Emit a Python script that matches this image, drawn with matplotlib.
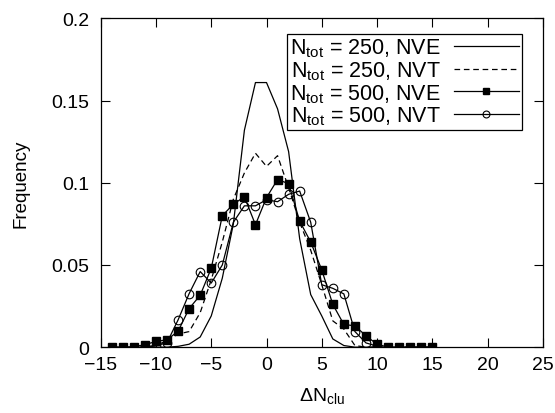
import matplotlib
matplotlib.use("Agg")
import matplotlib.pyplot as plt

plt.rcParams["font.family"] = ["Liberation Sans", "DejaVu Sans"]
plt.rcParams["mathtext.fontset"] = "custom"
plt.rcParams["mathtext.rm"] = "Liberation Sans"
plt.rcParams["mathtext.it"] = "Liberation Sans"

# Delta N_clu values for each run
x_250 = [-14, -13, -12, -11, -10, -9, -8, -7, -6, -5, -4, -3, -2, -1, 0,
         1, 2, 3, 4, 5, 6, 7, 8, 9, 10, 11, 12, 13, 14, 15]
nve_250 = [0, 0, 0, 0, 0, 0, 0.0005, 0.0018, 0.0062, 0.019, 0.042, 0.075,
           0.132, 0.161, 0.161, 0.145, 0.119, 0.066, 0.032, 0.019, 0.005,
           0.001, 0, 0, 0, 0, 0, 0, 0, 0]
nvt_250 = [0, 0, 0, 0, 0.001, 0.004, 0.008, 0.0095, 0.021, 0.041, 0.064,
           0.090, 0.106, 0.118, 0.110, 0.1165, 0.097, 0.076, 0.059, 0.038,
           0.016, 0.011, 0.001, 0, 0, 0, 0, 0, 0, 0]

x_nve500 = [-14, -13, -12, -11, -10, -9, -8, -7, -6, -5, -4, -3, -2, -1, 0,
            1, 2, 3, 4, 5, 6, 7, 8, 9, 10, 11, 12, 13, 14, 15]
nve_500 = [0, 0, 0.0003, 0.0015, 0.0035, 0.0045, 0.0097, 0.0235, 0.0316,
           0.048, 0.080, 0.087, 0.0915, 0.0745, 0.091, 0.102, 0.0995, 0.0767,
           0.064, 0.047, 0.026, 0.0138, 0.013, 0.0069, 0.0018, 0, 0, 0, 0, 0]

x_nvt500 = [-11, -10, -9, -8, -7, -6, -5, -4, -3, -2, -1, 0, 1, 2, 3, 4, 5,
            6, 7, 8, 9, 10]
nvt_500 = [0.0003, 0.0008, 0.0028, 0.0166, 0.0326, 0.046, 0.039, 0.050,
           0.076, 0.086, 0.086, 0.0897, 0.0885, 0.093, 0.095, 0.076, 0.038,
           0.0358, 0.0324, 0.0095, 0.0026, 0.0006]

labels = [r"$\mathrm{N_{tot}}$ = 250, NVE", r"$\mathrm{N_{tot}}$ = 250, NVT",
          r"$\mathrm{N_{tot}}$ = 500, NVE", r"$\mathrm{N_{tot}}$ = 500, NVT"]

fig = plt.figure(figsize=(5.55, 4.14), dpi=100)
ax = fig.add_axes([0.1815, 0.159, 0.7965, 0.794])

lw = 0.9
h1, = ax.plot(x_250, nve_250, "-", color="black", lw=lw)
h2, = ax.plot(x_250, nvt_250, color="black", lw=lw, dashes=(4.5, 3))
h4, = ax.plot(x_nvt500, nvt_500, "-o", color="black", lw=lw, ms=6.2,
              mfc="none", mec="black", mew=0.8)
h3, = ax.plot(x_nve500, nve_500, "-s", color="black", lw=lw, ms=6.0,
              mfc="black", mec="black")

ax.set_xlim(-15, 25)
ax.set_ylim(0, 0.2)
ax.set_xticks([-15, -10, -5, 0, 5, 10, 15, 20, 25])
ax.set_yticks([0, 0.05, 0.1, 0.15, 0.2])
ax.set_yticklabels(["0", "0.05", "0.1", "0.15", "0.2"])
ax.tick_params(direction="in", length=6.5, width=0.8, top=True, right=True,
               labelsize=14, colors="black")
ax.tick_params(axis="x", pad=6)
ax.tick_params(axis="y", pad=8)
for s in ax.spines.values():
    s.set_linewidth(0.9)

ax.set_xlabel(r"$\Delta\mathrm{N_{clu}}$", fontsize=14, labelpad=9)
ax.set_ylabel("Frequency", fontsize=13.5, labelpad=16)

leg = ax.legend([h1, h2, h3, h4], labels, loc="upper right",
                bbox_to_anchor=(0.9525, 0.954), borderaxespad=0,
                markerfirst=False, numpoints=1, fontsize=15.5,
                handlelength=3.0, handletextpad=0.6, labelspacing=0.0,
                borderpad=0.15, fancybox=False, framealpha=1,
                edgecolor="black", markerscale=0.8)
leg.get_frame().set_linewidth(0.9)

fig.savefig("out.png", dpi=100)
